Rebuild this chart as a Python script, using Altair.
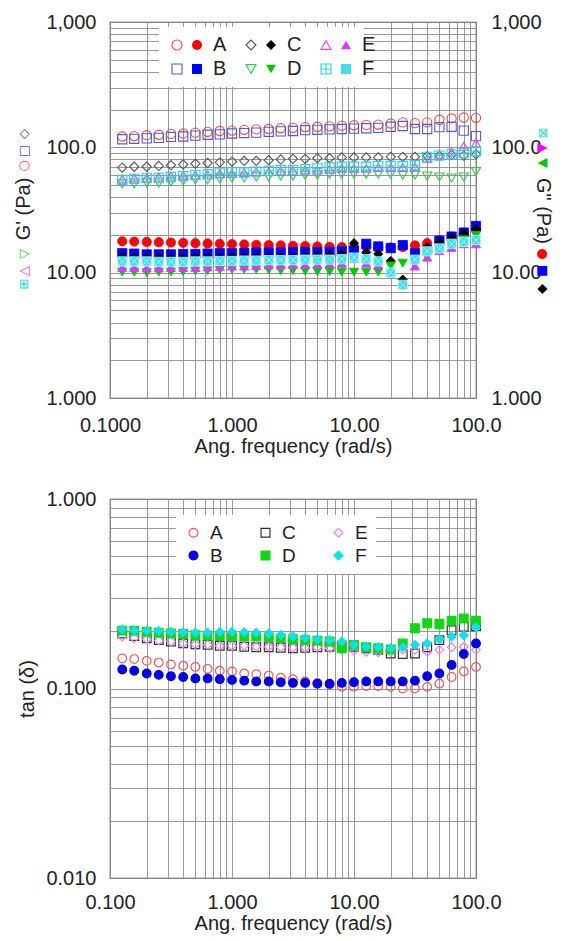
import altair as alt
import pandas as pd

# ---------------- data ----------------
freq = [0.126, 0.158, 0.200, 0.251, 0.316, 0.398, 0.501, 0.631, 0.794, 1.00,
        1.26, 1.58, 2.00, 2.51, 3.16, 3.98, 5.01, 6.31, 7.94, 10.0,
        12.6, 15.8, 20.0, 25.1, 31.6, 39.8, 50.1, 63.1, 79.4, 100.0]

samples = ["A", "B", "C", "D", "E", "F"]
legend_order = ["A", "B", "C", "D", "E", "F"]

# G' (Pa), open symbols
Gp_A = [122, 123, 125, 126, 128, 129, 131, 133, 135, 136, 138, 139, 140, 142, 143,
        145, 146, 147, 149, 150, 151, 152, 155, 158, 156, 158, 166, 170, 173, 172]
Gp_B = [116, 117, 118, 119, 121, 122, 124, 126, 127, 129, 130, 131, 133, 134, 135,
        137, 138, 139, 140, 141, 142, 143, 146, 148, 140, 140, 145, 146, 136, 123]
Gp_C = [69, 70, 70, 71, 72, 73, 74, 75, 76, 77, 78, 78, 79, 80, 81,
        81, 82, 82, 83, 83, 83, 83, 84, 84, 84, 85, 86, 87, 86, 88]
Gp_D = [51, 51, 52, 52, 53, 54, 55, 55, 56, 57, 57, 58, 58, 59, 59,
        60, 60, 61, 61, 61, 61, 61, 61, 60, 60, 59, 58, 57, 58, 64]
Gp_E = [56, 57, 57, 58, 59, 60, 60, 61, 62, 62, 63, 64, 64, 65, 65,
        66, 66, 67, 68, 68, 68, 69, 69, 69, 70, 82, 86, 92, 102, 108]
Gp_F = [55, 56, 57, 57, 58, 59, 60, 61, 62, 63, 63, 64, 65, 66, 66,
        67, 68, 69, 70, 70, 70, 71, 71, 71, 72, 84, 86, 88, 90, 93]

# G'' (Pa), filled symbols
Gpp_A = [17.8, 17.7, 17.6, 17.5, 17.4, 17.3, 17.2, 17.1, 17.0, 16.9, 16.8, 16.7, 16.6, 16.5, 16.4,
         16.3, 16.2, 16.1, 16.0, 16.0, 16.0, 15.9, 15.9, 16.0, 16.5, 17.2, 18.2, 19.4, 20.8, 22.0]
Gpp_B = [14.3, 14.2, 14.0, 14.0, 14.0, 14.1, 14.1, 14.2, 14.3, 14.3, 14.4, 14.5, 14.5, 14.5, 14.6,
         14.6, 14.6, 14.7, 14.8, 15.0, 17.0, 16.2, 15.7, 16.6, 14.3, 15.1, 18.0, 19.4, 20.9, 23.6]
Gpp_C = [13.3, 13.2, 13.1, 13.1, 13.1, 13.1, 13.2, 13.2, 13.2, 13.3, 13.3, 13.3, 13.3, 13.3, 13.3,
         13.4, 13.6, 13.8, 14.0, 17.2, 14.5, 14.1, 12.4, 8.8, 12.8, 16.0, 17.5, 18.8, 20.5, 22.3]
Gpp_D = [10.1, 10.1, 10.0, 10.1, 10.1, 10.2, 10.3, 10.4, 10.5, 10.6, 10.6, 10.6, 10.5, 10.4, 10.4,
         10.3, 10.2, 10.2, 10.1, 10.1, 10.1, 10.1, 11.3, 11.9, 12.5, 13.3, 15.5, 17.0, 18.3, 19.8]
Gpp_E = [11.0, 11.0, 10.9, 10.9, 11.0, 11.0, 11.0, 11.1, 11.2, 11.3, 11.3, 11.4, 11.5, 11.5, 11.6,
         11.6, 11.7, 11.8, 11.9, 13.0, 11.9, 11.5, 10.2, 8.0, 11.3, 13.3, 15.0, 15.9, 17.0, 17.0]
Gpp_F = [12.3, 12.3, 12.3, 12.2, 12.2, 12.2, 12.3, 12.3, 12.4, 12.4, 12.5, 12.5, 12.6, 12.6, 12.6,
         12.7, 12.7, 12.7, 12.8, 13.2, 12.8, 12.3, 10.0, 8.0, 12.7, 14.8, 15.6, 17.0, 17.6, 18.2]

# tan(delta)
tan_A = [0.144, 0.143, 0.140, 0.137, 0.134, 0.132, 0.130, 0.127, 0.124, 0.123, 0.120, 0.119, 0.117, 0.114, 0.112,
         0.109, 0.107, 0.105, 0.102, 0.102, 0.103, 0.103, 0.102, 0.100, 0.100, 0.102, 0.106, 0.115, 0.123, 0.130]
tan_B = [0.126, 0.124, 0.120, 0.118, 0.116, 0.115, 0.113, 0.113, 0.112, 0.111, 0.110, 0.109, 0.109, 0.108, 0.107,
         0.107, 0.106, 0.106, 0.107, 0.108, 0.109, 0.109, 0.109, 0.109, 0.110, 0.116, 0.120, 0.133, 0.152, 0.173]
tan_C = [0.195, 0.189, 0.184, 0.180, 0.177, 0.173, 0.171, 0.170, 0.168, 0.168, 0.166, 0.165, 0.165, 0.164, 0.163,
         0.164, 0.165, 0.166, 0.168, 0.166, 0.163, 0.160, 0.153, 0.152, 0.153, 0.165, 0.180, 0.203, 0.212, 0.213]
tan_D = [0.202, 0.202, 0.199, 0.197, 0.195, 0.194, 0.191, 0.190, 0.189, 0.188, 0.188, 0.188, 0.186, 0.184, 0.182,
         0.180, 0.179, 0.177, 0.163, 0.170, 0.165, 0.163, 0.161, 0.173, 0.208, 0.221, 0.219, 0.228, 0.234, 0.228]
tan_E = [0.188, 0.184, 0.182, 0.179, 0.177, 0.173, 0.171, 0.170, 0.168, 0.168, 0.168, 0.166, 0.166, 0.165, 0.164,
         0.164, 0.165, 0.163, 0.161, 0.158, 0.156, 0.155, 0.156, 0.160, 0.160, 0.156, 0.160, 0.165, 0.166, 0.160]
tan_F = [0.205, 0.203, 0.202, 0.201, 0.199, 0.198, 0.197, 0.197, 0.199, 0.199, 0.198, 0.197, 0.195, 0.192, 0.188,
         0.185, 0.182, 0.180, 0.177, 0.170, 0.166, 0.165, 0.163, 0.165, 0.170, 0.173, 0.182, 0.188, 0.191, 0.210]

# tick labels
top_x_ticks = [0.1, 1, 10, 100]
top_x_labels = ["0.1000", "1.000", "10.00", "100.0"]
top_y_ticks = [1, 10, 100, 1000]
top_y_labels = ["1.000", "10.00", "100.0", "1,000"]
bot_x_ticks = [0.1, 1, 10, 100]
bot_x_labels = ["0.100", "1.000", "10.00", "100.0"]
bot_y_ticks = [0.01, 0.1, 1]
bot_y_labels = ["0.010", "0.100", "1.000"]

x_title = "Ang. frequency (rad/s)"
left_title = "G' (Pa)"
right_title = 'G" (Pa)'
bot_y_title = "tan (δ)"

# ---------------- tables ----------------
Gp = {"A": Gp_A, "B": Gp_B, "C": Gp_C, "D": Gp_D, "E": Gp_E, "F": Gp_F}
Gpp = {"A": Gpp_A, "B": Gpp_B, "C": Gpp_C, "D": Gpp_D, "E": Gpp_E, "F": Gpp_F}
tan = {"A": tan_A, "B": tan_B, "C": tan_C, "D": tan_D, "E": tan_E, "F": tan_F}

rows = []
for s in samples:
    for f, a, b in zip(freq, Gp[s], Gpp[s]):
        rows.append({"freq": f, "sample": s, "Gp": a, "Gpp": b})
df_top = pd.DataFrame(rows)

rows = []
for s in ["C", "E", "A", "B", "D", "F"]:
    for f, t in zip(freq, tan[s]):
        rows.append({"freq": f, "sample": s, "tan": t})
df_bot = pd.DataFrame(rows)

# ---------------- styles ----------------
FONT = "Liberation Sans"
GLYPH_FONT = "DejaVu Sans"
TXT = "#222222"
PLUS_SQ = "M-1,-1L1,-1L1,1L-1,1Z M0,-1L0,1 M-1,0L1,0"
CROSS_SQ = "M-1,-1L1,-1L1,1L-1,1Z M-1,-1L1,1 M1,-1L-1,1"

open_col = {"A": "#f04848", "B": "#5858cc", "C": "#555555", "D": "#33c84a", "E": "#ee40ee", "F": "#20d8e0"}
fill_col = {"A": "#ff0000", "B": "#0000ff", "C": "#000000", "D": "#00c800", "E": "#d040f0", "F": "#40e0e8"}
fill_stroke = {"A": "#ff0000", "B": "#0000ff", "C": "#000000", "D": "#00c800", "E": "#d040f0", "F": "#b8fbff"}
open_shape = {"A": "circle", "B": "square", "C": "diamond", "D": "triangle-down", "E": "triangle-up", "F": PLUS_SQ}
fill_shape = {"A": "circle", "B": "square", "C": "diamond", "D": "triangle-down", "E": "triangle-up", "F": CROSS_SQ}

bot_stroke = {"A": "#f05a5a", "B": "#0000e6", "C": "#333333", "D": "#10d810", "E": "#ee80ee", "F": "#10e0e8"}
bot_fill = {"A": "transparent", "B": "#0000e6", "C": "transparent", "D": "#10d810", "E": "transparent", "F": "#10e0e8"}
bot_shape = {"A": "circle", "B": "circle", "C": "square", "D": "square", "E": "diamond", "F": "diamond"}


def rng(d):
    return [d[s] for s in legend_order]


def label_expr(ticks, labels):
    parts = [f"abs(datum.value - {t}) < {t * 1e-6} ? '{l}'" for t, l in zip(ticks, labels)]
    return " : ".join(parts) + " : ''"


def grid_vals(lo, hi):
    vals = []
    for e in range(lo, hi):
        for m in range(1, 10):
            vals.append(round(m * 10 ** e, 6))
    vals.append(round(10 ** hi, 6))
    return vals


W = 366
H_TOP = 376
H_BOT = 379

x_scale = alt.Scale(type="log", domain=[0.1, 100], nice=False)


def x_axis(labels, ticks, pad, tpad):
    return alt.Axis(values=grid_vals(-1, 2), labelExpr=label_expr(ticks, labels), grid=True,
                    ticks=False, domain=False, labelFlush=False, labelOverlap=False,
                    labelPadding=pad, title=x_title, titlePadding=tpad)


# ---------------- top chart ----------------
y_top_scale = alt.Scale(type="log", domain=[1, 1000], nice=False)

leg_open = alt.Legend(title=None, orient="none", legendX=49, legendY=5, columns=3,
                      symbolSize=100, symbolStrokeWidth=1.1, labelFont=FONT, labelFontSize=20,
                      labelColor=TXT, labelOpacity=0, labelOffset=6, columnPadding=34,
                      rowPadding=4, padding=8, fillColor="white")
leg_fill = alt.Legend(title=None, orient="none", legendX=69, legendY=5, columns=3,
                      symbolSize=100, symbolStrokeWidth=0, labelFont=FONT, labelFontSize=20,
                      labelColor=TXT, labelOffset=6, columnPadding=34,
                      rowPadding=4, padding=8)

xa_top = x_axis(top_x_labels, top_x_ticks, 17, 1)

open_pts = alt.Chart(df_top).mark_point(filled=False, size=85, strokeWidth=1.1, opacity=1).encode(
    x=alt.X("freq:Q", scale=x_scale, axis=xa_top),
    y=alt.Y("Gp:Q", scale=y_top_scale, title=None,
            axis=alt.Axis(orient="left", values=grid_vals(0, 3),
                          labelExpr=label_expr(top_y_ticks, top_y_labels), grid=True,
                          ticks=False, domain=False, labelOverlap=False, labelPadding=14)),
    color=alt.Color("sample:N", scale=alt.Scale(domain=legend_order, range=rng(open_col)), legend=leg_open),
    shape=alt.Shape("sample:N", scale=alt.Scale(domain=legend_order, range=rng(open_shape)), legend=leg_open),
)

fill_pts = alt.Chart(df_top).mark_point(filled=True, size=85, strokeWidth=0.8, opacity=1).encode(
    x=alt.X("freq:Q", scale=x_scale, axis=xa_top),
    y=alt.Y("Gpp:Q", scale=y_top_scale, title=None,
            axis=alt.Axis(orient="right", values=grid_vals(0, 3),
                          labelExpr=label_expr(top_y_ticks, top_y_labels), grid=False,
                          ticks=False, domain=False, labelOverlap=False, labelPadding=15)),
    color=alt.Color("sample:N", scale=alt.Scale(domain=legend_order, range=rng(fill_col)), legend=leg_fill),
    shape=alt.Shape("sample:N", scale=alt.Scale(domain=legend_order, range=rng(fill_shape)), legend=leg_fill),
    stroke=alt.Stroke("sample:N", scale=alt.Scale(domain=legend_order, range=rng(fill_stroke)), legend=None),
)


def glyph(txt, x, y, color, size, angle, font):
    return alt.Chart(pd.DataFrame({"t": [txt]})).mark_text(
        angle=angle, fontSize=size, font=font, color=color, align="center", baseline="middle"
    ).encode(text="t:N", x=alt.value(x), y=alt.value(y))


LX = -86
RX = W + 67
left_items = [
    ("◇", 112, open_col["C"], 13, GLYPH_FONT),
    ("□", 129, open_col["B"], 13, GLYPH_FONT),
    ("○", 144, open_col["A"], 13, GLYPH_FONT),
    (left_title, 187, TXT, 20, FONT),
    ("▽", 232, open_col["D"], 13, GLYPH_FONT),
    ("△", 249, open_col["E"], 13, GLYPH_FONT),
    ("⊞", 262, open_col["F"], 13, GLYPH_FONT),
]
right_items = [
    ("⊠", 111, open_col["F"], 13, GLYPH_FONT),
    ("▲", 126, "#ee00ee", 13, GLYPH_FONT),
    ("▼", 141, fill_col["D"], 13, GLYPH_FONT),
    (right_title, 189, TXT, 20, FONT),
    ("●", 232, fill_col["A"], 13, GLYPH_FONT),
    ("■", 249, fill_col["B"], 13, GLYPH_FONT),
    ("◆", 267, fill_col["C"], 13, GLYPH_FONT),
]
glyph_layers = [glyph(t, LX, y, c, s, 270, f) for t, y, c, s, f in left_items]
glyph_layers += [glyph(t, RX, y, c, s, 90, f) for t, y, c, s, f in right_items]

top = alt.layer(open_pts, fill_pts, *glyph_layers).resolve_scale(
    color="independent", shape="independent", stroke="independent"
).resolve_axis(y="independent").properties(width=W, height=H_TOP)

# ---------------- bottom chart ----------------
leg_bot = alt.Legend(title=None, orient="none", legendX=66, legendY=16, columns=3,
                     symbolSize=80, symbolStrokeWidth=1.2, labelFont=FONT, labelFontSize=19,
                     labelColor=TXT, labelOffset=7, columnPadding=33, rowPadding=3, padding=8,
                     fillColor="white")

bottom = alt.Chart(df_bot).mark_point(size=75, strokeWidth=1.2, opacity=1).encode(
    x=alt.X("freq:Q", scale=x_scale, axis=x_axis(bot_x_labels, bot_x_ticks, 14, 1)),
    y=alt.Y("tan:Q", scale=alt.Scale(type="log", domain=[0.01, 1], nice=False), title=bot_y_title,
            axis=alt.Axis(values=grid_vals(-2, 0), labelExpr=label_expr(bot_y_ticks, bot_y_labels),
                          grid=True, ticks=False, domain=False, labelOverlap=False,
                          labelPadding=14, titlePadding=8)),
    stroke=alt.Stroke("sample:N", scale=alt.Scale(domain=legend_order, range=rng(bot_stroke)), legend=leg_bot),
    fill=alt.Fill("sample:N", scale=alt.Scale(domain=legend_order, range=rng(bot_fill)), legend=leg_bot),
    shape=alt.Shape("sample:N", scale=alt.Scale(domain=legend_order, range=rng(bot_shape)), legend=leg_bot),
).properties(width=W, height=H_BOT)

chart = alt.vconcat(top, bottom, spacing=31).resolve_scale(
    color="independent", shape="independent", stroke="independent", fill="independent"
).properties(
    padding={"left": 5, "top": 3, "right": 0, "bottom": 0}
).configure_view(stroke="#444444", strokeWidth=1.2).configure_axis(
    labelFont=FONT, labelFontSize=20, labelColor=TXT, titleFont=FONT, titleFontSize=20,
    titleColor=TXT, titleFontWeight="normal", gridColor="#8c8c8c", gridWidth=0.9, gridOpacity=1
)

chart.save("out.html", embed_options={"renderer": "svg", "actions": False})
